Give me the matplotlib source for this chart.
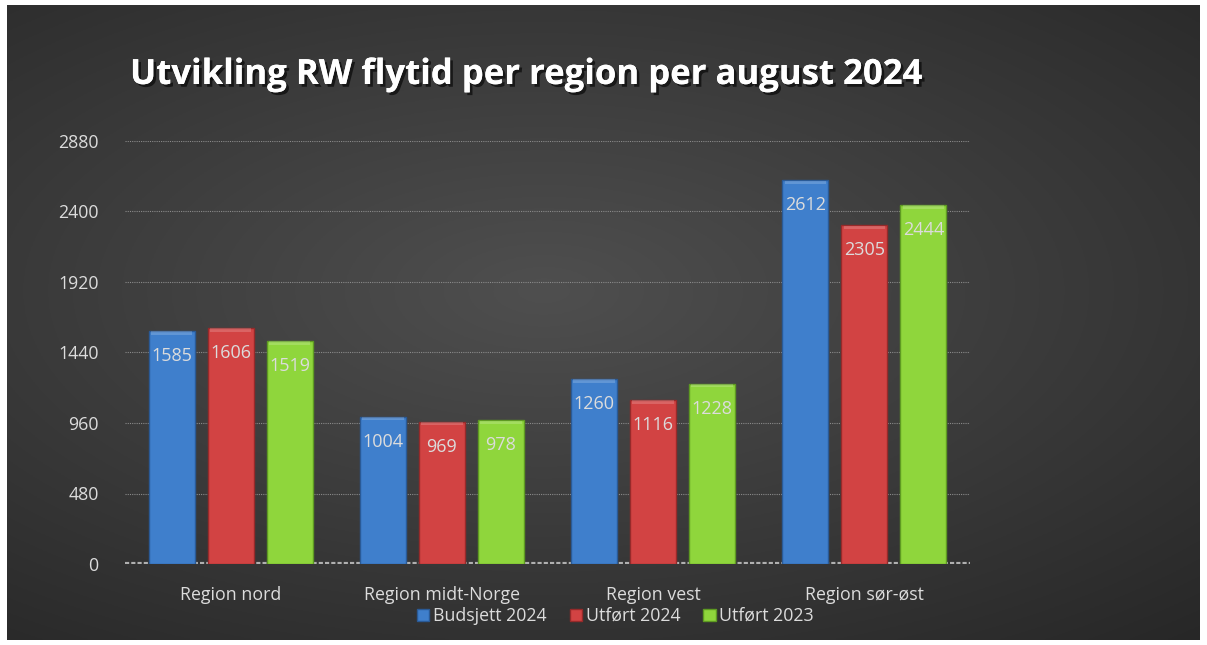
import numpy as np
import matplotlib
matplotlib.use("Agg")
import matplotlib.pyplot as plt
from matplotlib import patheffects as pe

categories = ["Region nord", "Region midt-Norge", "Region vest", "Region sør-øst"]
series_names = ["Budsjett 2024", "Utført 2024", "Utført 2023"]
budsjett_2024 = [1585, 1004, 1260, 2612]
utfort_2024 = [1606, 969, 1116, 2305]
utfort_2023 = [1519, 978, 1228, 2444]
yticks = [0, 480, 960, 1440, 1920, 2400, 2880]
title = "Utvikling RW flytid per region per august 2024"

colors = ["#3f7fcc", "#d24343", "#8fd63c"]
edge_colors = ["#2a5a96", "#962a2a", "#5e9a22"]

W, H = 1207, 645
fig = plt.figure(figsize=(W / 100, H / 100), dpi=100)
fig.patch.set_facecolor("white")

# dark gradient panel
bg = fig.add_axes([7 / W, 5 / H, (1200 - 7) / W, (640 - 5) / H])
yy, xx = np.mgrid[0:1:300j, 0:1:600j]
d = np.sqrt(((xx - 0.45) / 0.9) ** 2 + ((yy - 0.55) / 0.8) ** 2)
val = 0.31 - 0.17 * np.clip(d, 0, 1)
img = np.dstack([val, val, val])
bg.imshow(img, aspect="auto", extent=[0, 1, 0, 1], origin="lower")
bg.axis("off")

ax = fig.add_axes([125 / W, 81 / H, 845 / W, 423 / H])
ax.patch.set_alpha(0)
x = np.arange(len(categories))
width = 0.218
step = 0.279
data = [budsjett_2024, utfort_2024, utfort_2023]
txtcol = "#dcdcdc"
for i, (vals, c, ec, name) in enumerate(zip(data, colors, edge_colors, series_names)):
    pos = x + (i - 1) * step
    ax.bar(pos, vals, width, color=c, edgecolor=ec, linewidth=1.0, label=name, zorder=3)
    # bevel highlight at top
    ax.bar(pos, [24] * len(vals), width * 0.9, bottom=np.array(vals) - 26,
           color="white", alpha=0.18, linewidth=0, zorder=4)
    for p, v in zip(pos, vals):
        ax.text(p, v - 170, str(v), ha="center", va="center", color=txtcol,
                fontsize=13, family="Open Sans", zorder=5)

ax.set_xlim(-0.5, len(categories) - 0.5)
ax.set_ylim(0, 2880)
ax.set_yticks(yticks)
ax.set_yticklabels([str(t) for t in yticks], color=txtcol, fontsize=12.8, family="Open Sans")
ax.set_xticks(x)
ax.set_xticklabels(categories, color=txtcol, fontsize=12.8, family="Open Sans")
ax.tick_params(axis="y", length=0, pad=19)
ax.tick_params(axis="x", length=0, pad=16)
for s in ax.spines.values():
    s.set_visible(False)
ax.grid(axis="y", color="#8a8a8a", linestyle=(0, (1, 1)), linewidth=0.8, zorder=0)
ax.axhline(0, color="#b0b0b0", linewidth=3, linestyle=(0, (1, 0.5)), zorder=2)

leg = fig.legend(loc="center", bbox_to_anchor=(0.5 + 12 / W, 1 - 616 / H), ncol=3, frameon=False,
                 handlelength=0.7, handleheight=0.7, handletextpad=0.2,
                 columnspacing=1.3, prop={"family": "Open Sans", "size": 12.8})
for t in leg.get_texts():
    t.set_color(txtcol)

fig.text(130 / W, 1 - 75 / H, title, ha="left", va="center", color="white",
         fontsize=25, fontweight="bold", family="Open Sans",
         path_effects=[pe.withSimplePatchShadow(offset=(2, -2), shadow_rgbFace="black", alpha=0.6),
                       pe.Normal()])

fig.savefig("out.png", dpi=100)
